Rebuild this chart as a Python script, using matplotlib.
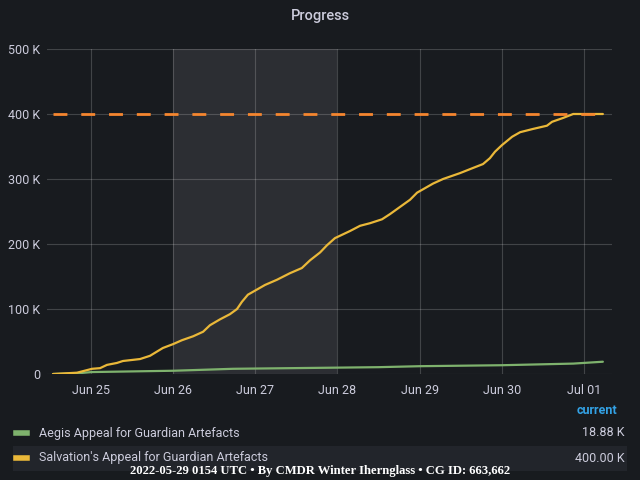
import matplotlib
matplotlib.use("Agg")
import matplotlib.pyplot as plt
import matplotlib.dates as mdates
from matplotlib.ticker import FuncFormatter, MultipleLocator
import pandas as pd

# ---- data ----
salv_times = [
    "2022-06-24 12:55", "2022-06-24 19:55", "2022-06-25 00:20", "2022-06-25 02:40",
    "2022-06-25 04:40", "2022-06-25 07:35", "2022-06-25 09:20", "2022-06-25 14:20",
    "2022-06-25 17:15", "2022-06-25 21:00", "2022-06-26 00:00", "2022-06-26 02:35",
    "2022-06-26 05:50", "2022-06-26 08:45", "2022-06-26 10:45", "2022-06-26 13:40",
    "2022-06-26 16:35", "2022-06-26 18:40", "2022-06-26 20:05", "2022-06-26 21:50",
    "2022-06-27 00:30", "2022-06-27 02:50", "2022-06-27 06:20", "2022-06-27 10:05",
    "2022-06-27 13:35", "2022-06-27 16:00", "2022-06-27 18:55", "2022-06-27 20:55",
    "2022-06-27 23:15", "2022-06-28 03:40", "2022-06-28 06:35", "2022-06-28 09:30",
    "2022-06-28 13:00", "2022-06-28 15:20", "2022-06-28 18:15", "2022-06-28 21:10",
    "2022-06-28 23:15", "2022-06-29 03:55", "2022-06-29 06:50", "2022-06-29 11:45",
    "2022-06-29 15:35", "2022-06-29 18:30", "2022-06-29 20:30", "2022-06-29 22:00",
    "2022-06-30 00:00", "2022-06-30 03:00", "2022-06-30 05:20", "2022-06-30 09:05",
    "2022-06-30 13:10", "2022-06-30 14:40", "2022-06-30 17:55", "2022-06-30 20:50",
    "2022-07-01 05:30",
]
salv_values = [
    0, 2000, 8000, 9000,
    14000, 17000, 20000, 23000,
    28000, 40000, 46000, 52000,
    58000, 65000, 75000, 84000,
    92000, 100000, 111000, 122000,
    130000, 137000, 145000, 155000,
    163000, 175000, 187000, 198000,
    209000, 220000, 228000, 232000,
    238000, 246000, 257000, 268000,
    279000, 293000, 300000, 309000,
    317000, 323000, 332000, 342000,
    352000, 365000, 372000, 377000,
    382000, 388000, 394000, 400000,
    400000,
]
aegis_times = [
    "2022-06-24 12:55", "2022-06-24 19:55", "2022-06-25 00:20", "2022-06-26 00:00",
    "2022-06-26 17:30", "2022-06-27 19:00", "2022-06-28 12:00", "2022-06-29 00:00",
    "2022-06-30 00:00", "2022-06-30 20:50", "2022-07-01 05:30",
]
aegis_values = [
    0, 1000, 3000, 5000,
    8000, 9500, 10500, 12000,
    13500, 16000, 18880,
]
threshold = 400000
series_names = ["Aegis Appeal for Guardian Artefacts", "Salvation's Appeal for Guardian Artefacts"]
current_values = ["18.88 K", "400.00 K"]
series_colors = ["#7EB26D", "#EAB839"]
region_start, region_end = "2022-06-26 00:00", "2022-06-28 00:00"
x_start, x_end = "2022-06-24 11:10", "2022-07-01 08:10"
footer = "2022-05-29 0154 UTC \u2022 By CMDR Winter Ihernglass \u2022 CG ID: 663,662"

# ---- style ----
BG = "#181b1f"
TXT = "#ccccdc"
plt.rcParams["font.family"] = ["Roboto", "DejaVu Sans"]

fig = plt.figure(figsize=(6.4, 4.8), dpi=100, facecolor=BG)
ax = fig.add_axes([47/640, 1-374/480, (612-47)/640, (374-49)/480])
ax.set_facecolor(BG)

st = pd.to_datetime(salv_times)
at = pd.to_datetime(aegis_times)

ax.axvspan(pd.Timestamp(region_start), pd.Timestamp(region_end), color="#2c2e33", zorder=0, lw=0)
ax.grid(True, color="#ffffff", alpha=0.18, lw=0.8, zorder=1)
ax.set_axisbelow(True)

ax.plot(at, aegis_values, color=series_colors[0], lw=1.6, zorder=3, solid_capstyle="round")
ax.plot(st, salv_values, color=series_colors[1], lw=1.6, zorder=3, solid_capstyle="round")
ax.plot([st[0], st[-1]], [threshold, threshold], color="#F5862F", lw=2,
        dashes=(5, 5), zorder=4)

ax.set_xlim(pd.Timestamp(x_start), pd.Timestamp(x_end))
ax.set_ylim(0, 500000)
ax.yaxis.set_major_locator(MultipleLocator(100000))
ax.yaxis.set_major_formatter(FuncFormatter(lambda v, p: "0" if v == 0 else f"{int(v/1000)} K"))
ax.xaxis.set_major_locator(mdates.DayLocator())
ax.xaxis.set_major_formatter(mdates.DateFormatter("%b %d"))

for s in ax.spines.values():
    s.set_visible(False)
ax.tick_params(colors=TXT, labelsize=9, length=0, pad=7)
ax.tick_params(axis="y", pad=5)

fig.text(0.5, 1-16/480, "Progress", ha="center", va="center", color=TXT, fontsize=10.5,
         fontweight="medium")

# legend table
fig.text(617/640, 1-410/480, "current", ha="right", va="center", color="#33A2E5",
         fontsize=9, fontweight="bold")
fig.patches.append(plt.Rectangle((13/640, 1-471/480), (627-13)/640, 25/480,
                                 transform=fig.transFigure, facecolor="#22252b",
                                 edgecolor="none", zorder=0))
rows_y = [433, 458]
for name, val, col, yy in zip(series_names, current_values, series_colors, rows_y):
    fy = 1-yy/480
    fig.add_artist(plt.Line2D([16/640, 27/640], [fy, fy], color=col, lw=4,
                              transform=fig.transFigure))
    fig.text(39/640, fy, name, ha="left", va="center", color=TXT, fontsize=9)
    fig.text(625/640, fy, val, ha="right", va="center", color=TXT, fontsize=9)

fig.text(0.5, 1-471/480, footer, ha="center", va="center", color="white",
         fontsize=9.1, fontweight="bold", family="Liberation Serif")

fig.savefig("out.png", dpi=100, facecolor=BG)
